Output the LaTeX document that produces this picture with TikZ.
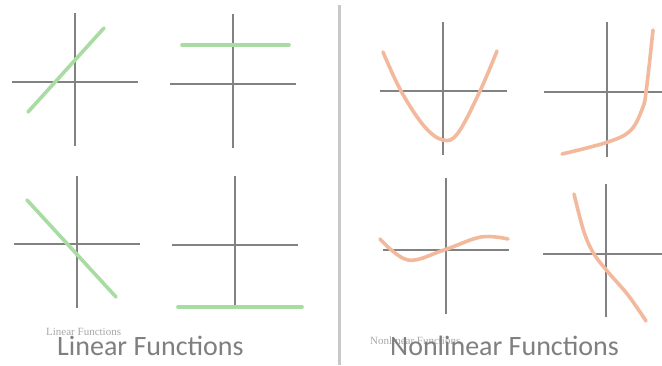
\documentclass[tikz,border=0pt]{standalone}
\usepackage{fontspec}
\setmainfont{Carlito}
\newfontfamily\smallserif{Liberation Serif}
\begin{document}
\begin{tikzpicture}[x=1pt,y=-1pt,
  axis/.style={draw=axisgray,line width=2.6pt},
  linfn/.style={draw=lingreen,line width=3.6pt,line cap=round},
  nlfn/.style={draw=nlorange,line width=3.6pt,line cap=round},
  bigtitle/.style={font=\fontsize{28}{30}\selectfont,text=titlegray,anchor=base west,inner sep=0pt},
  smalltitle/.style={font=\smallserif\fontsize{11}{12}\selectfont,text=smallgray,anchor=base west,inner sep=0pt}]
\definecolor{axisgray}{HTML}{828282}
\definecolor{lingreen}{HTML}{A9DCA2}
\definecolor{nlorange}{HTML}{F2B99C}
\definecolor{titlegray}{HTML}{7F7F7F}
\definecolor{smallgray}{HTML}{A8A8A8}
\definecolor{sepgray}{HTML}{C8C8C8}
\useasboundingbox[fill=white] (0,0) rectangle (662,365);
% separator
\draw[sepgray,line width=3pt] (339,5) -- (339,365);
% graph 1
\draw[axis] (75,13) -- (75,146);
\draw[axis] (12,82) -- (138,82);
\draw[linfn] (28,112) -- (104,28);
% graph 2
\draw[axis] (233,14) -- (233,148);
\draw[axis] (170,84) -- (296,84);
\draw[linfn] (182,45) -- (289,45);
% graph 3
\draw[axis] (77,176) -- (77,308);
\draw[axis] (14,244) -- (140,244);
\draw[linfn] (27,200) -- (116,297);
% graph 4
\draw[axis] (235,176) -- (235,309);
\draw[axis] (172,245) -- (298,245);
\draw[linfn] (178,307) -- (302,307);
% graph 5
\draw[axis] (443,22) -- (443,155);
\draw[axis] (380,91) -- (507,91);
\draw[nlfn] plot[smooth,tension=0.6] coordinates {(383,52) (401,91) (424,126) (443,140) (458,133) (480,91) (497,51)};
% graph 6
\draw[axis] (607,22) -- (607,157);
\draw[axis] (544,92) -- (662,92);
\draw[nlfn] plot[smooth,tension=0.6] coordinates {(562,154) (608,142) (631,130) (643,107) (646,92) (649,67) (653,30)};
% graph 7
\draw[axis] (446,178) -- (446,314);
\draw[axis] (383,250) -- (509,250);
\draw[nlfn] plot[smooth,tension=0.6] coordinates {(380,239) (408,260) (444,250) (481,237) (508,239)};
% graph 8
\draw[axis] (606,184) -- (606,317);
\draw[axis] (543,254) -- (662,254);
\draw[nlfn] plot[smooth,tension=0.6] coordinates {(574,194) (584,232) (594,254) (608,272) (628,295) (646,321)};
% titles
\node[smalltitle] (sl) at (46,335) {Linear Functions};
\node[smalltitle] (sn) at (370,344) {Nonlinear Functions};
\node[bigtitle] (bl) at (57,355) {Linear Functions};
\node[bigtitle] (bn) at (390,355) {Nonlinear Functions};
\end{tikzpicture}
\end{document}
